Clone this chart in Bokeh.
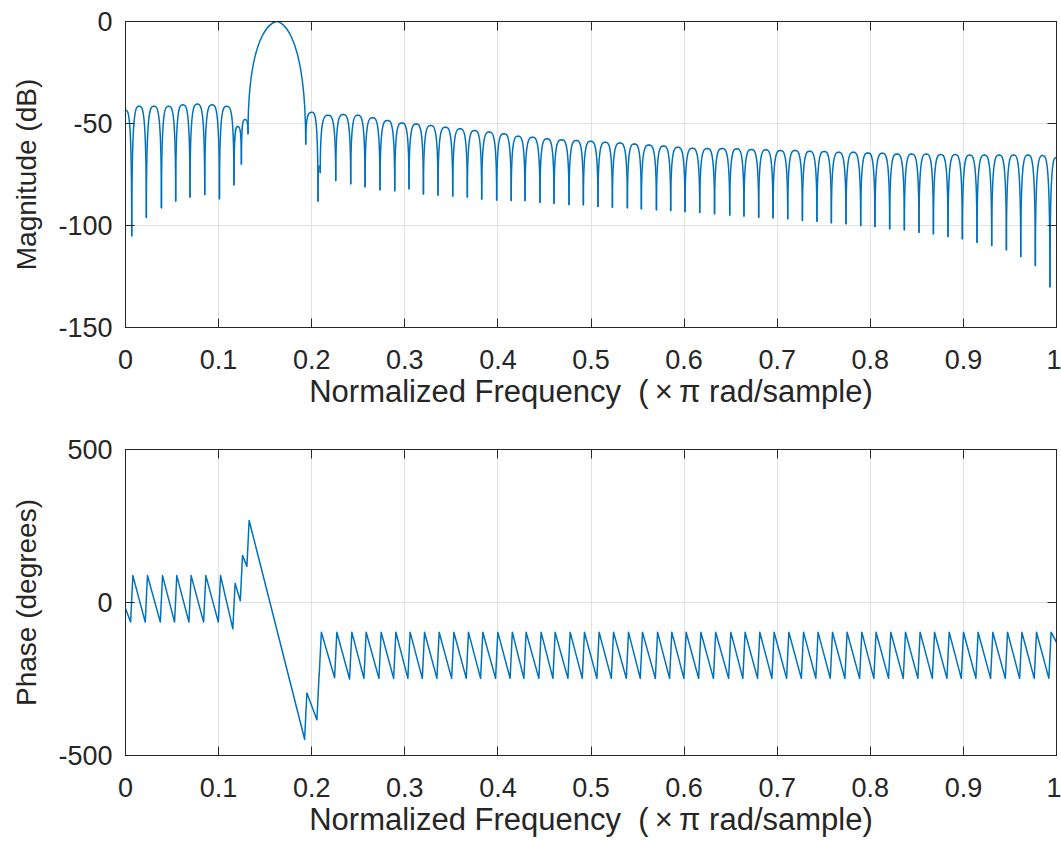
from bokeh.plotting import figure
from bokeh.layouts import column
from bokeh.models import LinearAxis, FixedTicker, Range1d, ColumnDataSource
from bokeh.embed import file_html
from bokeh.resources import INLINE

# ---------------- data ----------------
# Frequencies of the magnitude nulls (x pi rad/sample)
null_f = [0.0067, 0.0224, 0.0386, 0.0539, 0.0693, 0.0851, 0.1009, 0.1165, 0.1245, 0.1316,
          0.1936, 0.2068, 0.2092,
          0.2258, 0.2419, 0.2573, 0.2734, 0.2892, 0.3045, 0.3200, 0.3357, 0.3515, 0.3672,
          0.3826, 0.3987, 0.4143,
          0.4291, 0.4452, 0.4603, 0.4764, 0.4918, 0.5075, 0.5230, 0.5391, 0.5541, 0.5703,
          0.5856, 0.6010, 0.6168,
          0.6327, 0.6490, 0.6643, 0.6801, 0.6955, 0.7113, 0.7271, 0.7427, 0.7582, 0.7739,
          0.7897, 0.8050, 0.8208, 0.8366, 0.8523, 0.8678, 0.8835, 0.8989, 0.9146, 0.9304,
          0.9462, 0.9616, 0.9773, 0.9930]
# Magnitude at each null (dB)
null_db = [-105, -96, -91.3, -88, -86, -84.8, -86.9, -80, -69.8, -55,
           -60, -88, -74,
           -78, -79.5, -81, -82.5, -83, -82, -84.5, -85, -85.5, -86, -87, -87.5, -87.7,
           -87.7, -88.6, -89.1, -89.7, -89.8, -90.7, -91.0, -91.3, -91.8, -92.3, -92.6, -93.1, -93.6,
           -94.3, -94.8, -95.4, -95.9, -96.2, -96.7, -97.5, -97.9, -98.7, -99.2, -100, -100.5,
           -101.6, -102.1, -103.3, -104.1, -105.4, -106.5, -108.2, -109.8, -111.9, -115.2,
           -119.6, -130]
# Peak level of each lobe between consecutive nulls (dB)
lobe_db = [-41.5, -41.5, -41.5, -40.8, -40.5, -40.8, -41.5, -51.5, -48,
           0,
           -44.5, -71, -46,
           -45.6, -46, -47.2, -48.5, -49.7, -50.2, -51, -51.8, -52.6, -53.4, -54.2, -55,
           -56.2, -56.7, -57.5, -58.0, -58.3, -58.7, -59.2, -59.5, -60.0, -60.5, -61.0, -61.6, -62.1,
           -62.2, -62.2, -62.4, -62.7, -62.9, -63.2, -63.2, -63.6, -63.7, -64.1, -64.1, -64.4,
           -64.6, -64.9, -64.9, -64.9, -65.2, -65.2, -65.4, -65.4, -65.4, -65.4, -65.4, -65.7]
mag_start_db = -43.5   # value at f = 0
mag_end_db = -66.5     # value at f = 1

# Phase (degrees) just before / just after each null jump
phase_before = [-64, -64, -64, -64, -64, -64, -64, -86, 6, 118,
                -447, -383, -240,
                -246, -250, -248, -248, -248, -248, -248, -248, -248, -248, -248, -248, -248,
                -248, -248, -248, -248, -248, -248, -248, -248, -248, -248, -248, -248, -248,
                -248, -248, -248, -248, -248, -248, -248, -248, -248, -248, -248, -248, -248,
                -248, -248, -248, -248, -248, -248, -248, -248, -248, -248, -248, -248]
phase_after = [88, 88, 88, 88, 88, 88, 88, 63, 154, 268,
               -296, -233, -97,
               -97, -97, -97, -97, -97, -97, -97, -97, -97, -97, -97, -97, -97,
               -97, -97, -97, -97, -97, -97, -97, -97, -97, -97, -97, -97, -97,
               -97, -97, -97, -97, -97, -97, -97, -97, -97, -97, -97, -97, -97,
               -97, -97, -97, -97, -97, -97, -97, -97, -97, -97, -97, -97]
phase_start = -20
phase_end = -130

x_ticks = [0, 0.1, 0.2, 0.3, 0.4, 0.5, 0.6, 0.7, 0.8, 0.9, 1]
x_labels = ["0", "0.1", "0.2", "0.3", "0.4", "0.5", "0.6", "0.7", "0.8", "0.9", "1"]
mag_ticks = [-150, -100, -50, 0]
phase_ticks = [-500, 0, 500]
x_title = "Normalized Frequency\u00a0 (\u2009\u00d7\u2009\u03c0 rad/sample)"

# ---------------- styling ----------------
LINE = "#0072BD"
TXT = "#262626"
FONT = "Liberation Sans"
TICK_FS = "27px"
XLAB_FS = "31px"
YLAB_FS = "28px"
GRID = "#e2e2e2"


def style(p, yticks, ylabel):
    p.xaxis.ticker = FixedTicker(ticks=x_ticks)
    p.xaxis.major_label_overrides = {t: l for t, l in zip(x_ticks, x_labels)}
    p.yaxis.ticker = FixedTicker(ticks=yticks)
    p.yaxis.major_label_overrides = {t: str(t) for t in yticks}
    p.xgrid.ticker = FixedTicker(ticks=x_ticks)
    p.ygrid.ticker = FixedTicker(ticks=yticks)
    p.grid.grid_line_color = GRID
    p.grid.grid_line_width = 1
    for ax in (p.xaxis[0], p.yaxis[0]):
        ax.major_tick_in = 9
        ax.major_tick_out = 0
        ax.minor_tick_line_color = None
        ax.major_tick_line_color = TXT
        ax.axis_line_color = TXT
        ax.major_label_text_font = FONT
        ax.major_label_text_font_size = TICK_FS
        ax.major_label_text_color = TXT
        ax.axis_label_text_font = FONT
        ax.axis_label_text_font_style = "normal"
        ax.axis_label_text_color = TXT
    p.xaxis.axis_label = x_title
    p.xaxis.axis_label_text_font_size = XLAB_FS
    p.xaxis.major_label_standoff = 22
    p.xaxis.axis_label_standoff = 2
    p.yaxis.axis_label = ylabel
    p.yaxis.axis_label_text_font_size = YLAB_FS
    p.yaxis.major_label_standoff = 13
    p.yaxis.axis_label_standoff = 13
    # box ticks on top and right (no labels)
    for loc, tk in (("above", x_ticks), ("right", yticks)):
        ax = LinearAxis(ticker=FixedTicker(ticks=tk))
        ax.major_label_text_font_size = "0px"
        ax.major_label_text_color = None
        ax.major_label_standoff = 0
        ax.major_tick_in = 9
        ax.major_tick_out = 0
        ax.minor_tick_line_color = None
        ax.major_tick_line_color = TXT
        ax.axis_line_color = TXT
        p.add_layout(ax, loc)
    p.outline_line_color = TXT
    p.outline_line_width = 1
    p.background_fill_color = "white"
    p.border_fill_color = "white"


# ---------------- magnitude plot ----------------
S_SIDE = 0.5
S_MAIN = 0.0
seg = dict(x0=[], y0=[], x1=[], y1=[], cx0=[], cy0=[], cx1=[], cy1=[])


def add(x0, y0, cx0, cy0, cx1, cy1, x1, y1):
    for k, v in zip(("x0", "y0", "cx0", "cy0", "cx1", "cy1", "x1", "y1"),
                    (x0, y0, cx0, cy0, cx1, cy1, x1, y1)):
        seg[k].append(v)


def rise(xn, yn, xp, P, s):
    w = xp - xn
    add(xn, yn, xn, P, xp - s * w, P, xp, P)


def fall(xp, P, xn, yn, s):
    w = xn - xp
    add(xp, P, xp + s * w, P, xn, P, xn, yn)


fall(0.0, mag_start_db, null_f[0], null_db[0], S_SIDE)
for i in range(len(null_f) - 1):
    xa, xb = null_f[i], null_f[i + 1]
    P = lobe_db[i]
    xm = 0.5 * (xa + xb)
    s = S_MAIN if P > -20 else S_SIDE
    rise(xa, null_db[i], xm, P, s)
    fall(xm, P, xb, null_db[i + 1], s)
rise(null_f[-1], null_db[-1], 1.0, mag_end_db, S_SIDE)

W = 1061
p1 = figure(width=W, height=420, x_range=Range1d(0, 1), y_range=Range1d(-150, 0),
            output_backend="svg", toolbar_location=None,
            min_border_left=125, min_border_right=5, min_border_top=21, min_border_bottom=93)
style(p1, mag_ticks, "Magnitude (dB)")
p1.bezier(source=ColumnDataSource(seg), x0="x0", y0="y0", x1="x1", y1="y1",
          cx0="cx0", cy0="cy0", cx1="cx1", cy1="cy1",
          line_color=LINE, line_width=1.5, line_cap="round")

# ---------------- phase plot ----------------
D = 0.0012
ph_x = [0.0]
ph_y = [phase_start]
for f, b, a in zip(null_f, phase_before, phase_after):
    ph_x += [f - D, f + D]
    ph_y += [b, a]
ph_x.append(1.0)
ph_y.append(phase_end)

p2 = figure(width=W, height=426, x_range=Range1d(0, 1), y_range=Range1d(-500, 500),
            output_backend="svg", toolbar_location=None,
            min_border_left=125, min_border_right=5, min_border_top=29, min_border_bottom=91)
style(p2, phase_ticks, "Phase (degrees)")
p2.line(ph_x, ph_y, line_color=LINE, line_width=1.5, line_join="round")

layout = column(p1, p2)
open("out.html", "w").write(file_html(layout, INLINE))
